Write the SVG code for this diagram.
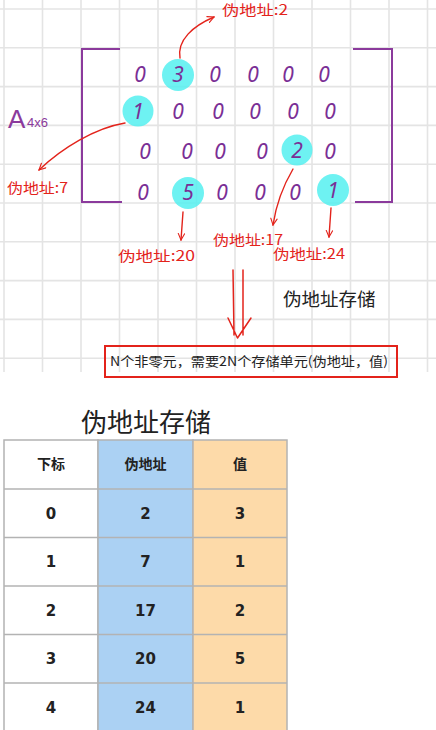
<svg xmlns="http://www.w3.org/2000/svg" width="436" height="730" viewBox="0 0 436 730">
<defs>
<style>
.grid line{stroke:#e4e4e4;stroke-width:1.6}
.br{fill:none;stroke:#8b3a9c;stroke-width:2}
.dg{font-family:"Noto Sans","DejaVu Sans",sans-serif;font-style:italic;font-size:21px;fill:#7a2e95;text-anchor:middle}
.hl{fill:#55f0f0;opacity:0.85}
.red{fill:none;stroke:#e3231b;stroke-width:1.4;stroke-linecap:round}
.rl{font-family:"Noto Sans CJK SC",sans-serif;font-size:14px;fill:#e3231b}
.cap{font-family:"Noto Sans CJK SC",sans-serif;fill:#222}
.cell{stroke:#b3b3b3;stroke-width:1.5}
.tt{font-family:"DejaVu Sans","Noto Sans CJK SC",sans-serif;font-weight:bold;font-size:15px;fill:#222;text-anchor:middle}
.th{font-family:"Noto Sans CJK SC",sans-serif;font-weight:bold;font-size:14px;fill:#222;text-anchor:middle}
</style>
<marker id="ah" viewBox="0 0 10 10" refX="9" refY="5" markerWidth="8" markerHeight="8" orient="auto" markerUnits="userSpaceOnUse">
<path d="M1,1 L9,5 L1,9" fill="none" stroke="#e3231b" stroke-width="1.4" stroke-linecap="round"/>
</marker>
</defs>
<rect width="436" height="730" fill="#fff"/>
<g class="grid">
<line x1="4" y1="0" x2="4" y2="372"/><line x1="42.5" y1="0" x2="42.5" y2="372"/><line x1="81" y1="0" x2="81" y2="372"/><line x1="119.5" y1="0" x2="119.5" y2="372"/><line x1="158" y1="0" x2="158" y2="372"/><line x1="196.5" y1="0" x2="196.5" y2="372"/><line x1="235" y1="0" x2="235" y2="372"/><line x1="273.5" y1="0" x2="273.5" y2="372"/><line x1="312" y1="0" x2="312" y2="372"/><line x1="350.5" y1="0" x2="350.5" y2="372"/><line x1="389" y1="0" x2="389" y2="372"/><line x1="427.5" y1="0" x2="427.5" y2="372"/>
<line x1="0" y1="9" x2="436" y2="9"/><line x1="0" y1="47.8" x2="436" y2="47.8"/><line x1="0" y1="86.6" x2="436" y2="86.6"/><line x1="0" y1="125.4" x2="436" y2="125.4"/><line x1="0" y1="164.2" x2="436" y2="164.2"/><line x1="0" y1="203" x2="436" y2="203"/><line x1="0" y1="241.8" x2="436" y2="241.8"/><line x1="0" y1="280.6" x2="436" y2="280.6"/><line x1="0" y1="319.4" x2="436" y2="319.4"/><line x1="0" y1="358.2" x2="436" y2="358.2"/>
</g>
<g id="matrix">
<path class="br" d="M120,49 L82,49 L82,202 L122,202"/>
<path class="br" d="M353,49 L392,49 L392,202 L355,202"/>
<text x="8" y="128" font-family="'Liberation Sans',sans-serif" font-size="26" fill="#8b3a9c">A</text>
<text x="27" y="127" font-family="'Liberation Sans',sans-serif" font-size="13" fill="#8b3a9c">4x6</text>
<circle class="hl" cx="178" cy="75" r="16"/>
<circle class="hl" cx="138" cy="111" r="15.5"/>
<circle class="hl" cx="297" cy="150" r="15.5"/>
<circle class="hl" cx="188" cy="193" r="16"/>
<circle class="hl" cx="333" cy="190" r="16"/>
<text class="dg" x="140" y="82">0</text><text class="dg" x="178" y="82">3</text><text class="dg" x="215" y="82">0</text><text class="dg" x="253" y="82">0</text><text class="dg" x="288" y="82">0</text><text class="dg" x="324" y="82">0</text>
<text class="dg" x="138" y="119">1</text><text class="dg" x="178" y="119">0</text><text class="dg" x="218" y="119">0</text><text class="dg" x="255" y="119">0</text><text class="dg" x="293" y="119">0</text><text class="dg" x="330" y="119">0</text>
<text class="dg" x="145" y="159">0</text><text class="dg" x="187" y="159">0</text><text class="dg" x="220" y="159">0</text><text class="dg" x="262" y="159">0</text><text class="dg" x="297" y="158">2</text><text class="dg" x="330" y="159">0</text>
<text class="dg" x="143" y="200">0</text><text class="dg" x="188" y="200">5</text><text class="dg" x="222" y="200">0</text><text class="dg" x="260" y="200">0</text><text class="dg" x="295" y="200">0</text><text class="dg" x="333" y="198">1</text>
</g>
<g id="connectors">
<path class="red" d="M180,58 C177,40 193,26 214,17" marker-end="url(#ah)"/>
<path class="red" d="M125,123 C95,128 62,148 39,170" marker-end="url(#ah)"/>
<path class="red" d="M183,212 L181,240" marker-end="url(#ah)"/>
<path class="red" d="M293,169 C283,186 276,205 273,225" marker-end="url(#ah)"/>
<path class="red" d="M331,208 L329,237" marker-end="url(#ah)"/>
<path d="M233,270 L234,335 M243,270 L243,335 M228,318 L237.5,338 L251,318" fill="none" stroke="#e3231b" stroke-width="1.5" stroke-linecap="round" stroke-linejoin="round"/>
</g>
<g id="labels">
<text class="rl" x="222" y="15" textLength="66" lengthAdjust="spacingAndGlyphs">伪地址:2</text>
<text class="rl" x="7" y="193" font-size="16" textLength="61" lengthAdjust="spacingAndGlyphs">伪地址:7</text>
<text class="rl" x="118" y="261" textLength="77" lengthAdjust="spacingAndGlyphs">伪地址:20</text>
<text class="rl" x="213" y="245" textLength="70" lengthAdjust="spacingAndGlyphs">伪地址:17</text>
<text class="rl" x="273" y="259" textLength="72" lengthAdjust="spacingAndGlyphs">伪地址:24</text>
<text class="cap" x="283" y="306" font-size="18.5">伪地址存储</text>
</g>
<g id="note">
<rect x="105" y="346" width="292" height="31" fill="none" stroke="#e3231b" stroke-width="2"/>
<text class="cap" x="110" y="366" font-size="13" textLength="278" lengthAdjust="spacingAndGlyphs">N个非零元，需要2N个存储单元(伪地址，值)</text>
</g>
<g id="table">
<text class="cap" x="146" y="432" font-size="26" text-anchor="middle">伪地址存储</text>
<rect class="cell" x="4" y="440" width="94" height="292" fill="#fff"/>
<rect class="cell" x="98" y="440" width="95" height="292" fill="#abd1f3"/>
<rect class="cell" x="193" y="440" width="94" height="292" fill="#fddaa9"/>
<g class="cell"><line x1="4" y1="489" x2="287" y2="489"/><line x1="4" y1="537.5" x2="287" y2="537.5"/><line x1="4" y1="586" x2="287" y2="586"/><line x1="4" y1="634.5" x2="287" y2="634.5"/><line x1="4" y1="683" x2="287" y2="683"/></g>
<text class="th" x="51" y="469">下标</text><text class="th" x="145.5" y="469">伪地址</text><text class="th" x="240" y="469">值</text>
<text class="tt" x="51" y="519">0</text><text class="tt" x="145.5" y="519">2</text><text class="tt" x="240" y="519">3</text>
<text class="tt" x="51" y="567">1</text><text class="tt" x="145.5" y="567">7</text><text class="tt" x="240" y="567">1</text>
<text class="tt" x="51" y="616">2</text><text class="tt" x="145.5" y="616">17</text><text class="tt" x="240" y="616">2</text>
<text class="tt" x="51" y="664">3</text><text class="tt" x="145.5" y="664">20</text><text class="tt" x="240" y="664">5</text>
<text class="tt" x="51" y="713">4</text><text class="tt" x="145.5" y="713">24</text><text class="tt" x="240" y="713">1</text>
</g>
</svg>
